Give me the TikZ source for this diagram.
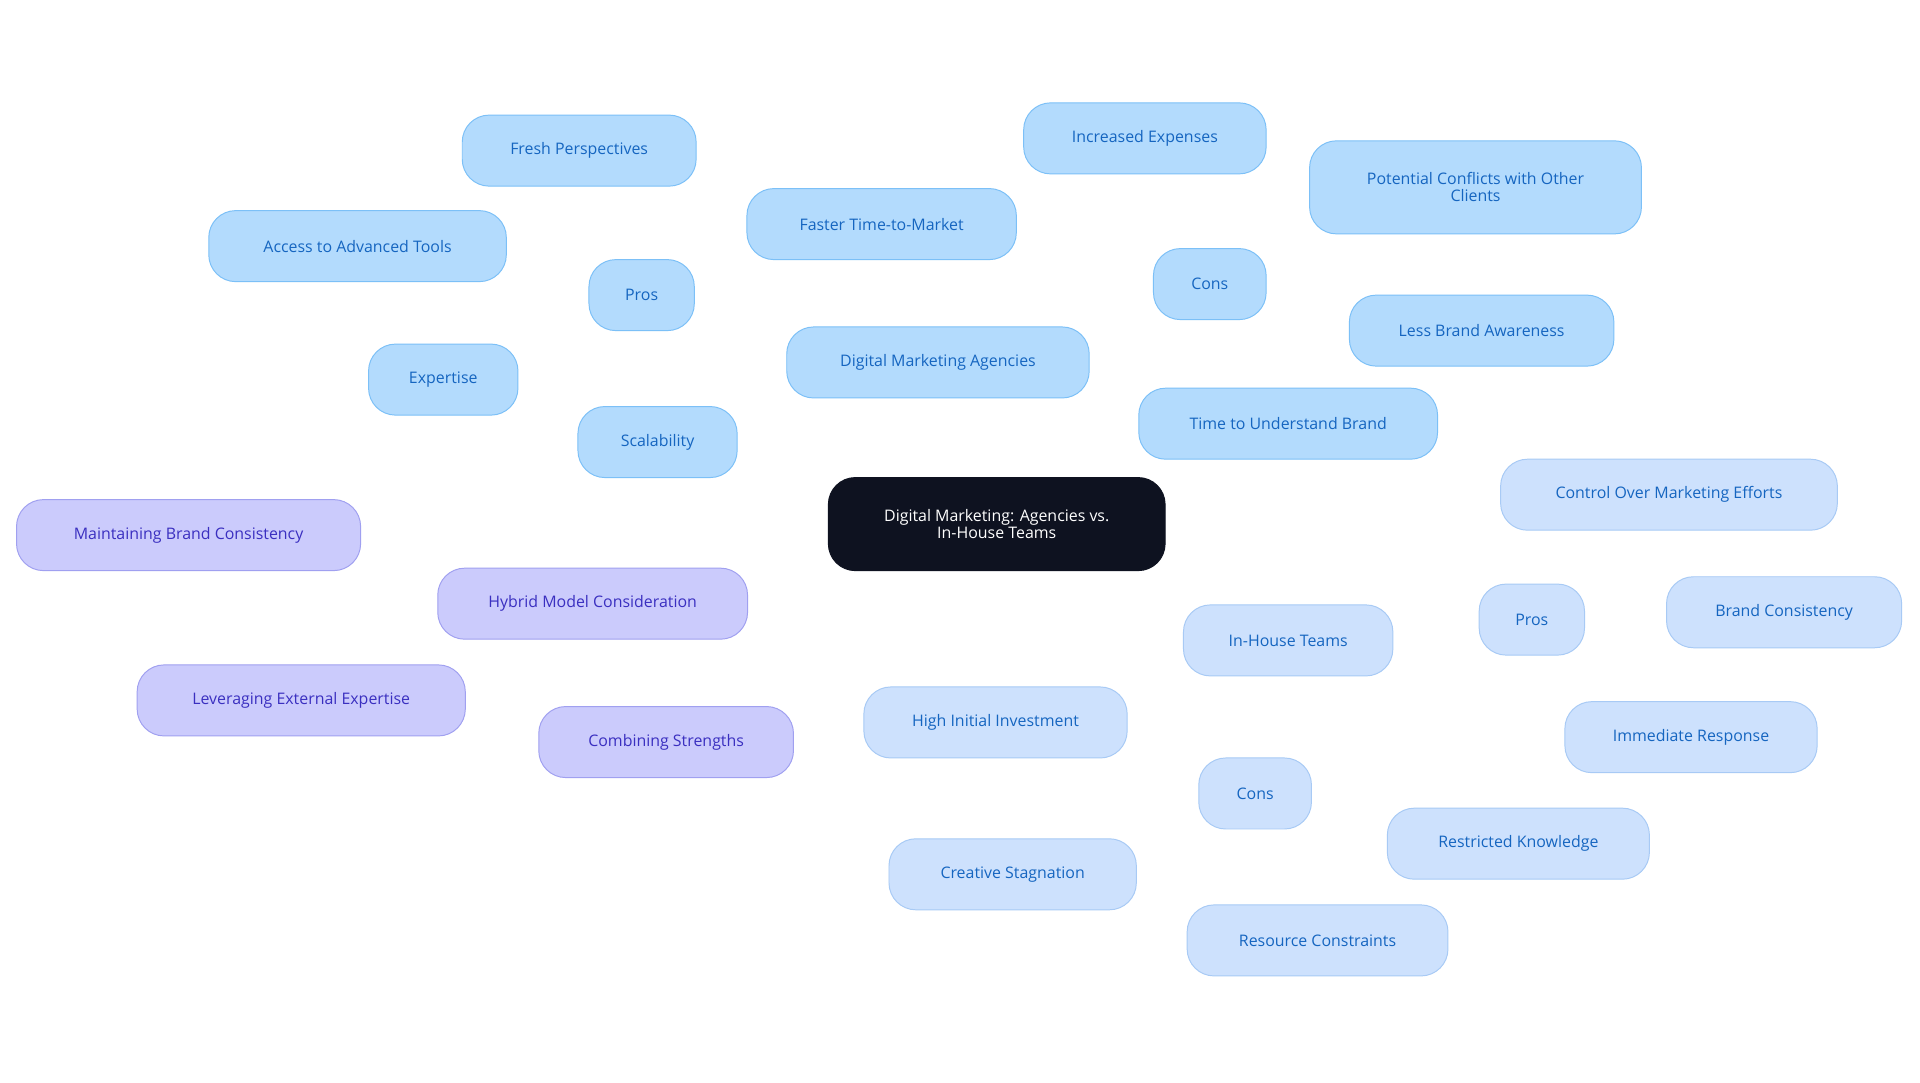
\documentclass[tikz,border=0pt]{standalone}
\usepackage{fontspec}
\setmainfont{Open Sans}
\usetikzlibrary{backgrounds}
\definecolor{bfill}{HTML}{B3DBFD}\definecolor{bdraw}{HTML}{7CC0F7}\definecolor{btext}{HTML}{1565C0}
\definecolor{lfill}{HTML}{CDE1FD}\definecolor{ldraw}{HTML}{A8CAF5}
\definecolor{hfill}{HTML}{CBCBFC}\definecolor{hdraw}{HTML}{A0A0F0}\definecolor{htext}{HTML}{3A2FC0}
\definecolor{cfill}{HTML}{0E1220}
\tikzset{
 base/.style={rounded corners=22pt,minimum height=58pt,align=center,font=\fontsize{13pt}{14pt}\selectfont,inner sep=0pt,line width=0.8pt},
 bn/.style={base,fill=bfill,draw=bdraw,text=btext},
 ln/.style={base,fill=lfill,draw=ldraw,text=btext},
 hn/.style={base,fill=hfill,draw=hdraw,text=htext},
 cn/.style={base,fill=cfill,draw=cfill,text=white,minimum height=76pt},
 be/.style={draw=bdraw,line width=1.6pt},
 le/.style={draw=ldraw,line width=1.6pt},
 he/.style={draw=hdraw,line width=1.6pt},
}
\begin{document}
\begin{tikzpicture}[x=1pt,y=1pt]
\useasboundingbox[fill=white] (0,0) rectangle (1568,-884);
\node[cn,minimum width=275pt] (c) at (814,-428) {Digital Marketing: Agencies vs.\\In-House Teams};
\node[bn,minimum width=247pt] (dma) at (766,-296) {Digital Marketing Agencies};
\node[bn,minimum width=86pt] (p1) at (524,-241) {Pros};
\node[bn,minimum width=191pt] (fresh) at (473,-123) {Fresh Perspectives};
\node[bn,minimum width=243pt] (tools) at (292,-201) {Access to Advanced Tools};
\node[bn,minimum width=220pt] (faster) at (720,-183) {Faster Time-to-Market};
\node[bn,minimum width=122pt] (exp) at (362,-310) {Expertise};
\node[bn,minimum width=130pt] (scal) at (537,-361) {Scalability};
\node[bn,minimum width=92pt] (c1) at (988,-232) {Cons};
\node[bn,minimum width=198pt] (incr) at (935,-113) {Increased Expenses};
\node[bn,minimum width=271pt,minimum height=76pt] (conf) at (1205,-153) {Potential Conflicts with Other\\Clients};
\node[bn,minimum width=216pt] (less) at (1210,-270) {Less Brand Awareness};
\node[bn,minimum width=244pt] (time) at (1052,-346) {Time to Understand Brand};
\node[ln,minimum width=171pt] (ih) at (1052,-523) {In-House Teams};
\node[ln,minimum width=86pt] (p2) at (1251,-506) {Pros};
\node[ln,minimum width=275pt] (ctrl) at (1363,-404) {Control Over Marketing Efforts};
\node[ln,minimum width=192pt] (bc) at (1457,-500) {Brand Consistency};
\node[ln,minimum width=206pt] (imm) at (1381,-602) {Immediate Response};
\node[ln,minimum width=92pt] (c2) at (1025,-648) {Cons};
\node[ln,minimum width=215pt] (hii) at (813,-590) {High Initial Investment};
\node[ln,minimum width=202pt] (cs) at (827,-714) {Creative Stagnation};
\node[ln,minimum width=214pt] (rk) at (1240,-689) {Restricted Knowledge};
\node[ln,minimum width=213pt] (rc) at (1076,-768) {Resource Constraints};
\node[hn,minimum width=253pt] (hy) at (484,-493) {Hybrid Model Consideration};
\node[hn,minimum width=281pt] (mbc) at (154,-437) {Maintaining Brand Consistency};
\node[hn,minimum width=268pt] (lee) at (246,-572) {Leveraging External Expertise};
\node[hn,minimum width=208pt] (comb) at (544,-606) {Combining Strengths};
\begin{scope}[on background layer]
\foreach \a/\b in {c/dma,dma/p1,p1/fresh,p1/tools,p1/faster,p1/exp,p1/scal,dma/c1,c1/incr,c1/conf,c1/less,c1/time}
  \draw[be] (\a.center) -- (\b.center);
\foreach \a/\b in {c/ih,ih/p2,p2/ctrl,p2/bc,p2/imm,ih/c2,c2/hii,c2/cs,c2/rk,c2/rc}
  \draw[le] (\a.center) -- (\b.center);
\foreach \a/\b in {c/hy,hy/mbc,hy/lee,hy/comb}
  \draw[he] (\a.center) -- (\b.center);
\end{scope}
\end{tikzpicture}
\end{document}
